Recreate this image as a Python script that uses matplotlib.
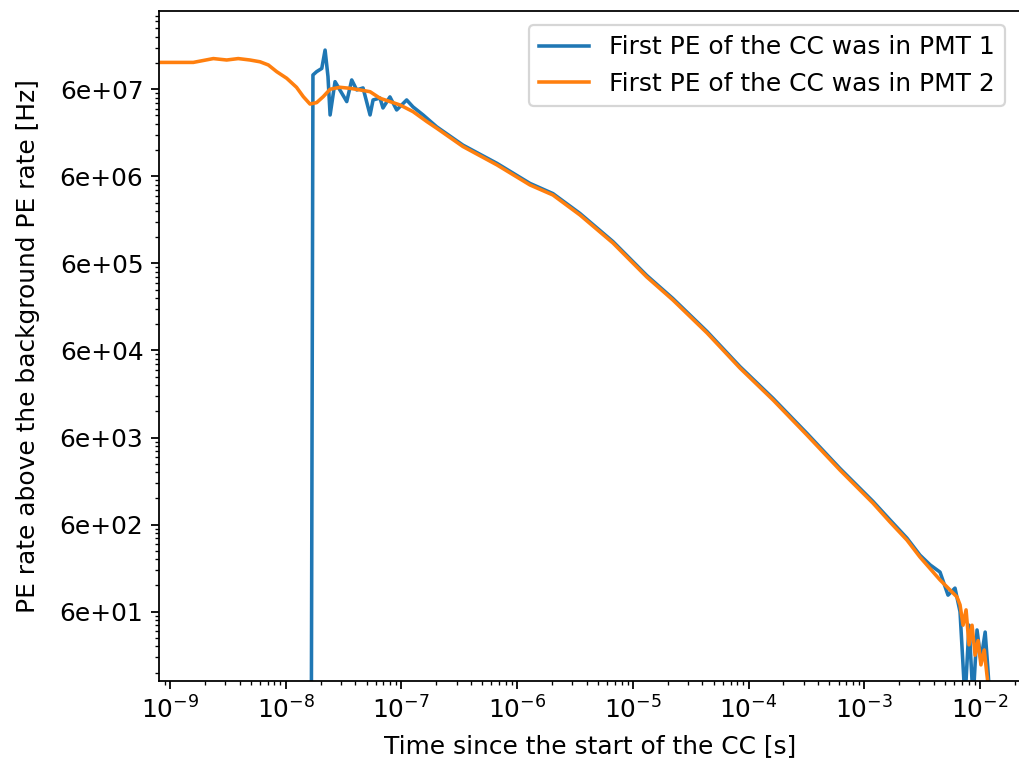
import numpy as np
import matplotlib
matplotlib.use("Agg")
import matplotlib.pyplot as plt
from matplotlib.ticker import FixedLocator, FormatStrFormatter, NullFormatter

# ---- data (time in s, rate in Hz) ----
t_pmt2 = [7.5e-10, 1.59e-9, 2.37e-9, 3.09e-9, 3.89e-9, 4.91e-9, 6.0e-9, 7.08e-9,
          8.36e-9, 1.02e-8, 1.24e-8, 1.42e-8, 1.62e-8, 1.85e-8, 2.11e-8, 2.42e-8,
          2.94e-8, 3.6e-8, 4.39e-8, 5.36e-8, 6.53e-8, 7.96e-8, 9.72e-8, 1.26e-7,
          1.66e-7, 2.02e-7, 3.40e-7, 6.70e-7, 1.29e-6, 2.04e-6, 3.49e-6, 6.73e-6,
          1.32e-5, 2.22e-5, 4.38e-5, 8.43e-5, 1.63e-4, 3.20e-4, 6.17e-4, 1.19e-3,
          1.67e-3, 2.34e-3, 3.03e-3, 4.52e-3, 6.34e-3, 6.73e-3, 7.15e-3, 7.59e-3,
          8.05e-3, 8.55e-3, 9.08e-3, 9.64e-3, 1.02e-2, 1.09e-2, 1.15e-2, 1.22e-2]
r_pmt2 = [1.22e8, 1.22e8, 1.35e8, 1.30e8, 1.35e8, 1.30e8, 1.24e8, 1.14e8,
          9.55e7, 8.02e7, 6.32e7, 4.93e7, 4.06e7, 4.21e7, 4.93e7, 6.0e7,
          6.32e7, 6.15e7, 5.89e7, 5.62e7, 4.73e7, 4.33e7, 3.96e7, 3.32e7,
          2.55e7, 2.14e7, 1.32e7, 8.11e6, 4.78e6, 3.66e6, 2.16e6, 1.03e6,
          4.19e5, 2.28e5, 9.53e4, 3.77e4, 1.62e4, 6.41e3, 2.54e3, 1.06e3,
          643, 399, 255, 139, 88.5, 72, 42, 63,
          25, 42, 19, 28, 14.7, 21.8, 11.3, 5.8]

t_pmt1 = [1.64e-8, 1.72e-8, 1.85e-8, 2.05e-8, 2.19e-8, 2.32e-8, 2.42e-8, 2.67e-8,
          2.94e-8, 3.37e-8, 3.72e-8, 4.11e-8, 4.66e-8, 5.36e-8, 5.69e-8, 6.53e-8,
          6.93e-8, 7.96e-8, 9.10e-8, 1.11e-7, 1.26e-7, 1.54e-7, 2.02e-7, 3.40e-7,
          6.70e-7, 1.29e-6, 2.04e-6, 3.49e-6, 6.73e-6, 1.32e-5, 2.22e-5, 4.38e-5,
          8.43e-5, 1.63e-4, 3.20e-4, 6.17e-4, 1.19e-3, 1.67e-3, 2.34e-3, 3.03e-3,
          3.71e-3, 4.52e-3, 5.30e-3, 6.09e-3, 6.73e-3, 7.43e-3, 8.05e-3, 8.73e-3,
          9.44e-3, 1.02e-2, 1.11e-2, 1.17e-2, 1.22e-2]
r_pmt1 = [1e-3, 8.75e7, 9.55e7, 1.04e8, 1.69e8, 8.38e7, 3.04e7, 7.33e7,
          5.89e7, 4.33e7, 7.67e7, 5.89e7, 6.21e7, 3.04e7, 4.52e7, 4.76e7,
          3.66e7, 4.90e7, 3.47e7, 4.52e7, 3.76e7, 3.04e7, 2.22e7, 1.37e7,
          8.45e6, 4.98e6, 3.80e6, 2.25e6, 1.07e6, 4.36e5, 2.37e5, 9.90e4,
          3.92e4, 1.69e4, 6.70e3, 2.65e3, 1.11e3, 680, 420, 268,
          207, 171, 93, 112, 60, 5.8, 42, 5.8,
          37, 16.7, 35, 13.6, 5.8]

labels = ["First PE of the CC was in PMT 1", "First PE of the CC was in PMT 2"]
y_major = [6e1, 6e2, 6e3, 6e4, 6e5, 6e6, 6e7]

plt.rcParams["font.size"] = 11.2
plt.rcParams["lines.linewidth"] = 1.6

W, H, DPI = 1019, 767, 160
fig = plt.figure(figsize=(W / DPI, H / DPI), dpi=DPI)
ax = fig.add_axes([159 / W, 1 - 680.7 / H, (1021 - 159) / W, (680.7 - 11) / H])

ax.plot(t_pmt1, r_pmt1, color="#1f77b4", label=labels[0])
ax.plot(t_pmt2, r_pmt2, color="#ff7f0e", label=labels[1])

ax.set_xscale("log")
ax.set_yscale("log")
ax.set_xlim(10 ** -9.095, 10 ** -1.645)
ax.set_ylim(9.68, 4.75e8)

ax.yaxis.set_major_locator(FixedLocator(y_major))
ax.yaxis.set_major_formatter(FormatStrFormatter("%.0e"))
minor = [0.6 * k * 10 ** n for n in range(0, 9) for k in range(2, 10)]
ax.yaxis.set_minor_locator(FixedLocator(minor))
ax.yaxis.set_minor_formatter(NullFormatter())

ax.set_xlabel("Time since the start of the CC [s]", labelpad=5)
ax.set_ylabel("PE rate above the background PE rate [Hz]", labelpad=9)
ax.legend(loc="upper right", bbox_to_anchor=(1 - 4 / 862, 1 - 2 / 670))

fig.savefig("out.png", dpi=DPI)
